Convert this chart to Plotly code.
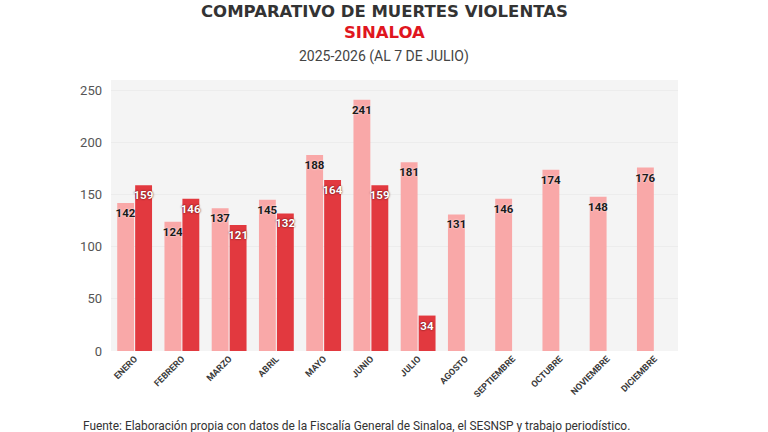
import plotly.graph_objects as go

months = ["ENERO", "FEBRERO", "MARZO", "ABRIL", "MAYO", "JUNIO", "JULIO",
          "AGOSTO", "SEPTIEMBRE", "OCTUBRE", "NOVIEMBRE", "DICIEMBRE"]
v2025 = [142, 124, 137, 145, 188, 241, 181, 131, 146, 174, 148, 176]
v2026 = [159, 146, 121, 132, 164, 159, 34, None, None, None, None, None]
yticks = [0, 50, 100, 150, 200, 250]

FONT = "Roboto"
W, H = 768, 432
ML, MR, MT, MB = 111, 90, 80, 81
plot_w = W - ML - MR
plot_h = H - MT - MB


def px_to_paper(px_x, px_y):
    return (px_x - ML) / plot_w, (H - MB - px_y) / plot_h


fig = go.Figure()
fig.add_trace(go.Bar(
    x=months, y=v2025, name="2025", marker_color="#F9A8A8",
    marker_line_width=0,
    text=[str(v) for v in v2025], textposition="inside", insidetextanchor="end",
    textangle=0,
    textfont=dict(family=FONT, size=11.5, color="#1a1a1a", weight="bold",
                  shadow="0px 0px 2px #ffffff"),
))
fig.add_trace(go.Bar(
    x=months, y=v2026, name="2026", marker_color="#E2393F",
    marker_line_width=0,
    text=[str(v) if v is not None else "" for v in v2026], textposition="inside",
    insidetextanchor="end", textangle=0,
    textfont=dict(family=FONT, size=11.5, color="#ffffff", weight="bold",
                  shadow="0px 0px 2px #3a0000"),
))

fig.update_layout(
    width=W, height=H,
    margin=dict(l=ML, r=MR, t=MT, b=MB),
    paper_bgcolor="#ffffff", plot_bgcolor="#F4F4F4",
    barmode="group", bargap=0.24, bargroupgap=0.06,
    showlegend=False,
    uniformtext=dict(minsize=11, mode="show"),
    font=dict(family=FONT, color="#444444"),
    xaxis=dict(tickangle=-45, tickfont=dict(family=FONT, size=9, color="#3a3a3a", weight="bold"),
               showgrid=False, zeroline=False, ticks="", showline=False),
    yaxis=dict(range=[0, 260], tickvals=yticks, tickfont=dict(family=FONT, size=13, color="#555555"),
               showgrid=True, gridcolor="#ECECEC", gridwidth=1, zeroline=False, ticks="",
               ticklabelstandoff=8),
)

# Title block (two lines in one text)
tx, ty = px_to_paper(384, 22)
fig.add_annotation(
    text="<b>COMPARATIVO DE MUERTES VIOLENTAS</b><br><b><span style='color:#E0161E'>SINALOA</span></b>",
    x=tx, y=ty, xref="paper", yref="paper", xanchor="center", yanchor="middle",
    showarrow=False, align="center",
    font=dict(family="DejaVu Sans", size=16.5, color="#333333"))

sx, sy = px_to_paper(384, 56)
fig.add_annotation(text="2025-2026 (AL 7 DE JULIO)", x=sx, y=sy, xref="paper", yref="paper",
                   xanchor="center", yanchor="middle", showarrow=False,
                   font=dict(family=FONT, size=14, color="#444444"))

fx, fy = px_to_paper(81, 426)
fig.add_annotation(text="Fuente: Elaboración propia con datos de la Fiscalía General de Sinaloa, el SESNSP y trabajo periodístico.",
                   x=fx, y=fy, xref="paper", yref="paper",
                   xanchor="left", yanchor="middle", showarrow=False,
                   font=dict(family=FONT, size=11.9, color="#333333"))

fig.write_html("out.html")
